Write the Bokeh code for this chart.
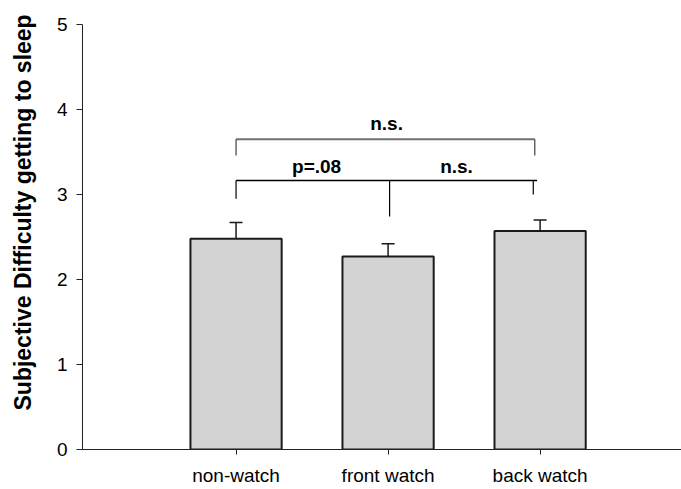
import numpy as np
from bokeh.plotting import figure
from bokeh.models import Range1d, FixedTicker, Title, ColumnDataSource
from bokeh.embed import file_html
from bokeh.resources import INLINE
from bokeh.core.properties import value

# ---- data ----
categories = ["non-watch", "front watch", "back watch"]
positions = [1, 2, 3]
means = [2.48, 2.27, 2.57]
sem = [0.19, 0.15, 0.13]
y_ticks = [0, 1, 2, 3, 4, 5]
y_label = "Subjective Difficulty getting to sleep"

# significance brackets (data units)
top_bracket_x = [1, 2.965]
top_bracket_y = 3.65
top_bracket_drop = 3.46
low_bracket_x = [1, 2.98]
low_bracket_y = 3.165
low_drops_x = [1, 2.01, 2.955]
low_drops_end = [2.95, 2.74, 3.0]
sig_texts = ["n.s.", "p=.08", "n.s."]
sig_x = [1.99, 1.53, 2.45]
sig_y = [3.83, 3.33, 3.33]

FONT = "Liberation Sans"

p = figure(width=681, height=489, output_backend="svg", toolbar_location=None,
           x_range=Range1d(-0.01, 3.93), y_range=Range1d(0, 5),
           min_border_left=82, min_border_right=0, min_border_top=24, min_border_bottom=40)
p.outline_line_color = None
p.xgrid.visible = False
p.ygrid.visible = False
p.background_fill_color = "white"
p.border_fill_color = "white"

tops = [m + s for m, s in zip(means, sem)]
src = ColumnDataSource(dict(x=positions, top=means, etop=tops))

p.vbar(x="x", top="top", bottom=0, width=0.6, source=src,
       fill_color="#d3d3d3", line_color="#1a1a1a", line_width=2)
p.segment(x0="x", y0="top", x1="x", y1="etop", source=src, line_color="#1a1a1a", line_width=1.5)
p.scatter(x="x", y="etop", source=src, marker="dash", size=13, line_color="#1a1a1a", line_width=1.5)

# upper bracket
gray = "#707070"
p.segment(x0=[top_bracket_x[0]], y0=[top_bracket_y], x1=[top_bracket_x[1]], y1=[top_bracket_y],
          line_color=gray, line_width=2)
p.segment(x0=top_bracket_x, y0=[top_bracket_y] * 2, x1=top_bracket_x, y1=[top_bracket_drop] * 2,
          line_color="#404040", line_width=1.2)
# lower bracket
p.segment(x0=[low_bracket_x[0]], y0=[low_bracket_y], x1=[low_bracket_x[1]], y1=[low_bracket_y],
          line_color="black", line_width=1.3)
p.segment(x0=low_drops_x, y0=[low_bracket_y] * 3, x1=low_drops_x, y1=low_drops_end,
          line_color="black", line_width=1.2)

p.text(x=sig_x, y=sig_y, text=sig_texts, text_font=value(FONT), text_font_style="bold",
       text_font_size="19px", text_align="center", text_baseline="alphabetic", text_color="black")

# axes
for ax in (p.xaxis[0], p.yaxis[0]):
    ax.axis_line_color = "#222222"
    ax.axis_line_width = 1
    ax.major_tick_line_color = "#222222"
    ax.minor_tick_line_color = None
    ax.major_tick_in = 0
    ax.major_label_text_font = FONT
    ax.major_label_text_font_size = "19px"
    ax.major_label_text_color = "black"

p.yaxis.ticker = FixedTicker(ticks=y_ticks)
p.yaxis.major_tick_out = 6
p.yaxis.major_label_standoff = 9
# invisible spacer label to push the title outward
p.yaxis.axis_label = " "
p.yaxis.axis_label_text_font_size = "8px"
p.yaxis.axis_label_standoff = 0

p.xaxis.ticker = FixedTicker(ticks=positions)
p.xaxis.major_label_overrides = {pos: c for pos, c in zip(positions, categories)}
p.xaxis.major_tick_out = 5
p.xaxis.major_label_standoff = 10

ttl = Title(text=y_label, align="left", offset=39, vertical_align="middle",
            text_font=FONT, text_font_style="bold", text_font_size="23px", text_color="black")
p.add_layout(ttl, "left")

open("out.html", "w").write(file_html(p, INLINE))
